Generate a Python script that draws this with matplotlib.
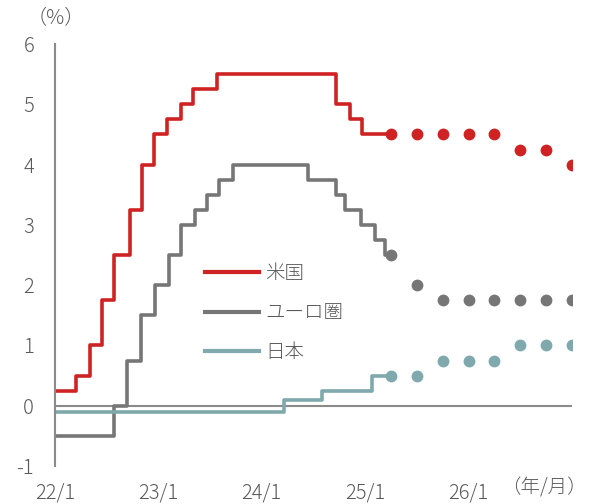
import matplotlib
matplotlib.use("Agg")
import matplotlib.pyplot as plt
import pandas as pd

plt.rcParams['font.family'] = ['Noto Sans CJK JP', 'DejaVu Sans']

# ---- data ----
us_dates = ["2022-01-01", "2022-03-17", "2022-05-05", "2022-06-16", "2022-07-28",
            "2022-09-22", "2022-11-03", "2022-12-15", "2023-02-02", "2023-03-23",
            "2023-05-04", "2023-07-27", "2024-09-19", "2024-11-08", "2024-12-19",
            "2025-04-01"]
us_rates = [0.25, 0.5, 1.0, 1.75, 2.5, 3.25, 4.0, 4.5, 4.75, 5.0,
            5.25, 5.5, 5.0, 4.75, 4.5, 4.5]

eu_dates = ["2022-01-01", "2022-07-27", "2022-09-14", "2022-11-02", "2022-12-21",
            "2023-02-08", "2023-03-22", "2023-05-10", "2023-06-21", "2023-08-02",
            "2023-09-20", "2024-06-12", "2024-09-18", "2024-10-23", "2024-12-18",
            "2025-02-05", "2025-03-12", "2025-04-01"]
eu_rates = [-0.5, 0.0, 0.75, 1.5, 2.0, 2.5, 3.0, 3.25, 3.5, 3.75,
            4.0, 3.75, 3.5, 3.25, 3.0, 2.75, 2.5, 2.5]

jp_dates = ["2022-01-01", "2024-03-19", "2024-07-31", "2025-01-24", "2025-04-01"]
jp_rates = [-0.1, 0.1, 0.25, 0.5, 0.5]

fc_dates = ["2025-04-01", "2025-07-01", "2025-10-01", "2026-01-01",
            "2026-04-01", "2026-07-01", "2026-10-01", "2027-01-01"]
us_fc = [4.5, 4.5, 4.5, 4.5, 4.5, 4.25, 4.25, 4.0]
eu_fc = [2.5, 2.0, 1.75, 1.75, 1.75, 1.75, 1.75, 1.75]
jp_fc = [0.5, 0.5, 0.75, 0.75, 0.75, 1.0, 1.0, 1.0]

labels = ["米国", "ユーロ圏", "日本"]
tick_dates = ["2022-01-01", "2023-01-01", "2024-01-01", "2025-01-01", "2026-01-01"]
tick_labels = ["22/1", "23/1", "24/1", "25/1", "26/1"]
y_ticks = [-1, 0, 1, 2, 3, 4, 5, 6]

# ---- style ----
c_us = "#cf2222"
c_eu = "#767676"
c_jp = "#7fa9ad"
c_axis = "#8a8a8a"
c_text = "#595959"

fig = plt.figure(figsize=(5.9, 5.04), dpi=100)
ax = fig.add_axes([55/590, 1-466/504, (572-55)/590, (466-44)/504])

lw = 2.6
ms = 8.5
ax.plot(pd.to_datetime(us_dates), us_rates, drawstyle="steps-post", color=c_us, lw=lw, label=labels[0])
ax.plot(pd.to_datetime(eu_dates), eu_rates, drawstyle="steps-post", color=c_eu, lw=lw, label=labels[1])
ax.plot(pd.to_datetime(jp_dates), jp_rates, drawstyle="steps-post", color=c_jp, lw=lw, label=labels[2])

ax.plot(pd.to_datetime(fc_dates), us_fc, 'o', color=c_us, ms=ms, mec='none')
ax.plot(pd.to_datetime(fc_dates), eu_fc, 'o', color=c_eu, ms=ms, mec='none')
ax.plot(pd.to_datetime(fc_dates), jp_fc, 'o', color=c_jp, ms=ms, mec='none')

x0 = pd.Timestamp("2022-01-01")
x1 = pd.Timestamp("2027-01-01")
ax.axhline(0, color=c_axis, lw=1.5, zorder=1)
ax.set_xlim(x0, x1)
ax.set_ylim(-1, 6)

for s in ["top", "right", "bottom"]:
    ax.spines[s].set_visible(False)
ax.spines["left"].set_color(c_axis)
ax.spines["left"].set_linewidth(1.5)

fs = 14.5
ax.set_yticks(y_ticks)
ax.set_yticklabels([str(v) for v in y_ticks], fontweight="light")
ax.set_xticks(pd.to_datetime(tick_dates))
ax.set_xticklabels(tick_labels, fontweight="light")
ax.tick_params(axis="y", length=0, pad=15, labelsize=fs, labelcolor=c_text)
ax.tick_params(axis="x", length=0, pad=12, labelsize=fs, labelcolor=c_text)

fig.text(56/590, 1-19/504, "（%）", ha="center", va="center", fontsize=14.5,
         color=c_text, fontweight="light")
fig.text(544/590, 1-488/504, "（年/月）", ha="center", va="center", fontsize=14,
         color=c_text, fontweight="light")

leg = ax.legend(loc="upper left", bbox_to_anchor=(205/590, 1-263/504),
                bbox_transform=fig.transFigure, frameon=False,
                handlelength=2.8, handletextpad=0.3, labelspacing=0.95,
                prop={"size": 14, "weight": "light"}, borderaxespad=0, borderpad=0)
for t in leg.get_texts():
    t.set_color(c_text)
for h in leg.get_lines():
    h.set_linewidth(3.0)

fig.savefig("out.png", dpi=100)
